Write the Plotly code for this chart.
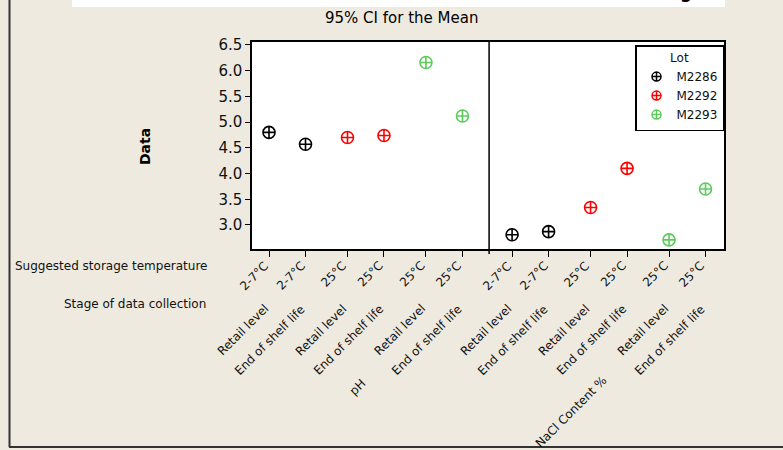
import plotly.graph_objects as go

# ---- data -------------------------------------------------------------
variables = ["pH", "NaCl Content %"]
temperatures = ["2-7°C", "2-7°C", "25°C", "25°C", "25°C", "25°C"]
stages = ["Retail level", "End of shelf life"] * 3
cell_lots = ["M2286", "M2286", "M2292", "M2292", "M2293", "M2293"]
lot_names = ["M2286", "M2292", "M2293"]
lot_colors = ["#000000", "#FF0000", "#5CCB5C"]

ph_mean = [4.80, 4.57, 4.70, 4.74, 6.16, 5.12]
nacl_mean = [2.81, 2.87, 3.34, 4.10, 2.71, 3.70]
means_by_variable = [ph_mean, nacl_mean]

y_ticks = [3.0, 3.5, 4.0, 4.5, 5.0, 5.5, 6.0, 6.5]

# ---- geometry ---------------------------------------------------------
W, H = 783, 450
ML, MR, MT, MB = 252, 59, 42, 201
PW, PH = W - ML - MR, H - MT - MB
PAIR_STEP = 2.15     # gap between temperature/lot pairs (in cell units)
PANEL_STEP = 6.66    # offset of the second panel
X_RANGE = [-0.466, 12.466]
Y_RANGE = [2.533, 6.558]
DIVIDER = 6.03

BG = "#EEEAE0"
FONT = "DejaVu Sans"


def cell_pos(v, i):
    return v * PANEL_STEP + (i // 2) * PAIR_STEP + (i % 2)


def px_x(px):
    return (px - ML) / PW


def px_y(py):
    return (H - MB - py) / PH


fig = go.Figure()

for lot, color in zip(lot_names, lot_colors):
    xs, ys = [], []
    for v, means in enumerate(means_by_variable):
        for i, val in enumerate(means):
            if cell_lots[i] == lot:
                xs.append(cell_pos(v, i))
                ys.append(val)
    fig.add_trace(go.Scatter(
        x=xs, y=ys, mode="markers", showlegend=False, hoverinfo="skip",
        marker=dict(symbol="circle-cross-open", size=12, color=color,
                    line=dict(width=1.6, color=color)),
    ))
    # legend entry with a smaller symbol
    fig.add_trace(go.Scatter(
        x=[None], y=[None], mode="markers", name=lot,
        marker=dict(symbol="circle-cross-open", size=9, color=color,
                    line=dict(width=1.5, color=color)),
    ))

tick_positions = [cell_pos(v, i) for v in range(len(variables))
                  for i in range(len(temperatures))]

annotations = []
for v in range(len(variables)):
    for i in range(len(temperatures)):
        x = cell_pos(v, i)
        annotations.append(dict(
            x=x, y=0, xref="x", yref="paper", text=temperatures[i],
            textangle=-45, xanchor="right", yanchor="top", showarrow=False,
            xshift=5, yshift=-7, font=dict(family=FONT, size=12, color="#111")))
        annotations.append(dict(
            x=x, y=0, xref="x", yref="paper", text=stages[i],
            textangle=-45, xanchor="right", yanchor="top", showarrow=False,
            xshift=5, yshift=-50, font=dict(family=FONT, size=12, color="#111")))

panel_centers = [(X_RANGE[0] + DIVIDER) / 2, (DIVIDER + X_RANGE[1]) / 2]
for name, xc, dx, dy in zip(variables, panel_centers, [1, 6], [-124, -122]):
    annotations.append(dict(
        x=xc, y=0, xref="x", yref="paper", text=name, textangle=-45,
        xanchor="right", yanchor="top", showarrow=False, xshift=dx, yshift=dy,
        font=dict(family=FONT, size=12, color="#111")))

annotations += [
    dict(x=px_x(209), y=px_y(266), xref="paper", yref="paper",
         text="Suggested storage temperature", xanchor="right", yanchor="middle",
         showarrow=False, font=dict(family=FONT, size=12, color="#111")),
    dict(x=px_x(208), y=px_y(304), xref="paper", yref="paper",
         text="Stage of data collection", xanchor="right", yanchor="middle",
         showarrow=False, font=dict(family=FONT, size=12, color="#111")),
    dict(x=px_x(145), y=px_y(147), xref="paper", yref="paper", text="<b>Data</b>",
         textangle=-90, xanchor="center", yanchor="middle", showarrow=False,
         font=dict(family=FONT, size=14, color="#000")),
    dict(x=px_x(401), y=px_y(18), xref="paper", yref="paper",
         text="95% CI for the Mean", xanchor="center", yanchor="middle",
         showarrow=False, font=dict(family=FONT, size=15, color="#000")),
    dict(x=px_x(686), y=px_y(4), xref="paper", yref="paper", text="<b>g</b>",
         xanchor="center", yanchor="bottom", showarrow=False,
         font=dict(family=FONT, size=17, color="#000")),
]

shapes = [
    # white strip along the top
    dict(type="rect", xref="paper", yref="paper", x0=px_x(72), x1=px_x(725),
         y0=px_y(7), y1=px_y(-5), fillcolor="white", line=dict(width=0),
         layer="below"),
    # frame lines at left and bottom
    dict(type="line", xref="paper", yref="paper", x0=px_x(9.5), x1=px_x(9.5),
         y0=px_y(-2), y1=px_y(447), line=dict(color="#333", width=2)),
    dict(type="line", xref="paper", yref="paper", x0=px_x(9), x1=px_x(790),
         y0=px_y(447), y1=px_y(447), line=dict(color="#333", width=2)),
    # panel divider
    dict(type="line", xref="x", yref="paper", x0=DIVIDER, x1=DIVIDER,
         y0=px_y(254), y1=1, line=dict(color="#000", width=1.5)),
]

fig.update_layout(
    width=W, height=H, autosize=False,
    margin=dict(l=ML, r=MR, t=MT, b=MB, pad=0),
    paper_bgcolor=BG, plot_bgcolor="white",
    font=dict(family=FONT, color="#000"),
    showlegend=True,
    legend=dict(
        x=1, xanchor="right", y=px_y(45), yanchor="top",
        bgcolor="white", bordercolor="#000", borderwidth=1.5,
        font=dict(family=FONT, size=12, color="#111"),
        title=dict(text="Lot", side="top center",
                   font=dict(family=FONT, size=12, color="#111")),
        tracegroupgap=0, itemclick=False,
    ),
    xaxis=dict(range=X_RANGE, showgrid=False, zeroline=False, showline=True,
               mirror=True, linecolor="#000", linewidth=1.5, ticks="outside",
               ticklen=6, tickwidth=1.2, tickcolor="#000",
               tickvals=tick_positions, ticktext=[""] * len(tick_positions)),
    yaxis=dict(range=Y_RANGE, showgrid=False, zeroline=False, showline=True,
               mirror=True, linecolor="#000", linewidth=1.5, ticks="outside",
               ticklen=5, tickwidth=1.2, tickcolor="#000",
               tickvals=y_ticks, ticktext=[f"{t:.1f}" for t in y_ticks],
               tickfont=dict(family=FONT, size=15, color="#111")),
    annotations=annotations,
    shapes=shapes,
)

fig.write_html("out.html")
